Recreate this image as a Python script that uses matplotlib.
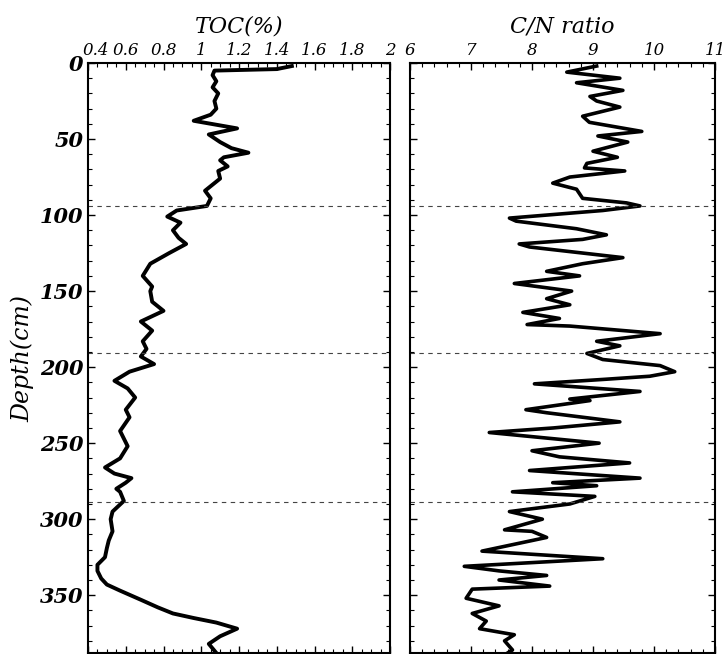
import numpy as np
import matplotlib.pyplot as plt
import matplotlib.transforms as mtransforms
from matplotlib.ticker import MultipleLocator

# TOC profile (depth cm, TOC %)
toc_depth = [2, 4, 5, 8, 12, 16, 20, 25, 30, 34, 38, 43, 47, 52, 56, 59, 62, 64, 68, 71,
             76, 80, 84, 89, 94, 97, 101, 105, 110, 115, 119, 125, 132, 140, 147, 150,
             157, 163, 170, 176, 183, 188, 193, 198, 203, 209, 214, 220, 228, 233, 242,
             247, 252, 260, 266, 270, 273, 276, 280, 282, 288, 295, 300, 308, 314, 319,
             325, 330, 334, 339, 343, 347, 353, 358, 362, 365, 368, 372, 377, 382, 388]
toc = [1.48, 1.40, 1.07, 1.06, 1.08, 1.06, 1.09, 1.07, 1.08, 1.05, 0.96, 1.19, 1.04, 1.10,
       1.16, 1.25, 1.12, 1.10, 1.14, 1.09, 1.10, 1.06, 1.02, 1.05, 1.03, 0.87, 0.82, 0.89,
       0.85, 0.88, 0.92, 0.83, 0.73, 0.69, 0.74, 0.73, 0.74, 0.80, 0.68, 0.74, 0.69, 0.71,
       0.68, 0.75, 0.62, 0.54, 0.61, 0.65, 0.60, 0.62, 0.57, 0.59, 0.61, 0.57, 0.49, 0.54,
       0.63, 0.60, 0.55, 0.57, 0.59, 0.53, 0.52, 0.53, 0.51, 0.50, 0.49, 0.45, 0.45, 0.47,
       0.50, 0.57, 0.68, 0.77, 0.85, 0.96, 1.08, 1.19, 1.10, 1.04, 1.08]

# C/N ratio profile (depth cm, C/N)
cn_depth = [2, 6, 10, 13, 18, 22, 25, 29, 35, 39, 45, 48, 52, 58, 62, 66, 69, 71, 75, 79,
            83, 89, 92, 94, 97, 102, 104, 109, 113, 116, 119, 121, 128, 132, 137, 140,
            145, 150, 155, 159, 164, 168, 172, 173, 178, 183, 186, 191, 195, 199, 203,
            206, 208, 211, 216, 221, 222, 228, 230, 236, 240, 243, 250, 255, 259, 263,
            268, 273, 276, 278, 282, 285, 290, 295, 300, 307, 308, 312, 321, 326, 331,
            334, 337, 340, 344, 346, 352, 357, 362, 367, 372, 376, 380, 386, 388]
cn = [9.06, 8.57, 9.44, 8.73, 9.49, 8.95, 9.06, 9.44, 8.83, 8.94, 9.80, 9.08, 9.57, 9.00,
      9.40, 8.90, 8.86, 9.52, 8.62, 8.34, 8.73, 8.83, 9.55, 9.77, 9.16, 7.63, 7.74, 8.73,
      9.22, 8.83, 7.79, 7.96, 9.49, 8.83, 8.24, 8.78, 7.71, 8.65, 8.24, 8.62, 7.85, 8.45,
      7.92, 8.62, 10.10, 9.06, 9.44, 8.90, 9.16, 10.10, 10.34, 9.93, 9.20, 8.04, 9.77,
      8.62, 8.95, 7.90, 8.24, 9.44, 8.35, 7.30, 9.10, 8.00, 8.45, 9.60, 7.96, 9.77, 8.34,
      9.06, 7.68, 9.03, 8.62, 7.63, 8.17, 7.55, 8.00, 8.24, 7.18, 9.16, 6.89, 7.46, 8.24,
      7.46, 8.29, 7.02, 6.92, 7.46, 7.02, 7.25, 7.14, 7.71, 7.55, 7.68, 7.60]

boundaries = [94, 191, 289]

font = dict(family='DejaVu Serif', style='italic')

fig = plt.figure(figsize=(7.28, 6.54), dpi=100)
ax1 = fig.add_axes([88 / 728, 1 / 654, 302 / 728, 590 / 654])
ax2 = fig.add_axes([410 / 728, 1 / 654, 305 / 728, 590 / 654])

ax1.plot(toc, toc_depth, color='black', lw=2.8)
ax2.plot(cn, cn_depth, color='black', lw=2.6)

for ax in (ax1, ax2):
    for d in boundaries:
        ax.axhline(d, color='#444444', lw=0.8, ls=(0, (4, 4)))
    ax.set_ylim(388, 0)
    ax.xaxis.tick_top()
    ax.tick_params(which='both', direction='in', top=True, bottom=True,
                   left=True, right=True, labelbottom=False)
    ax.tick_params(which='major', length=5, width=1)
    ax.tick_params(which='minor', length=3, width=0.8)
    ax.yaxis.set_major_locator(MultipleLocator(50))
    ax.yaxis.set_minor_locator(MultipleLocator(10))
    for s in ax.spines.values():
        s.set_linewidth(1.5)

ax1.set_xlim(0.4, 2)
ax1.xaxis.set_minor_locator(MultipleLocator(0.05))
ax1.set_xticks([0.4, 0.6, 0.8, 1.0, 1.2, 1.4, 1.6, 1.8, 2.0])
ax1.set_xticklabels(['0.4', '0.6', '0.8', '1', '1.2', '1.4', '1.6', '1.8', '2'], **font,
                    fontsize=12)
ax1.set_yticks([0, 50, 100, 150, 200, 250, 300, 350])
ax1.set_yticklabels(['0', '50', '100', '150', '200', '250', '300', '350'], **font,
                    fontsize=15, fontweight='bold')
ax1.tick_params(axis='x', pad=3)
ax1.set_ylabel('Depth(cm)', **font, fontsize=17, labelpad=4)
ax1.set_title('TOC(%)', **font, fontsize=16, pad=22)

# nudge the first TOC label so it clears the depth "0"
first = ax1.get_xticklabels()[0]
first.set_transform(first.get_transform() + mtransforms.ScaledTranslation(0.08, 0, fig.dpi_scale_trans))

ax2.set_xlim(6, 11)
ax2.xaxis.set_minor_locator(MultipleLocator(0.2))
ax2.set_xticks([6, 7, 8, 9, 10, 11])
ax2.set_xticklabels(['6', '7', '8', '9', '10', '11'], **font, fontsize=12)
ax2.tick_params(axis='x', pad=3)
ax2.tick_params(axis='y', labelleft=False)
ax2.set_title('C/N ratio', **font, fontsize=16, pad=22)

fig.savefig('out.png', dpi=100)
